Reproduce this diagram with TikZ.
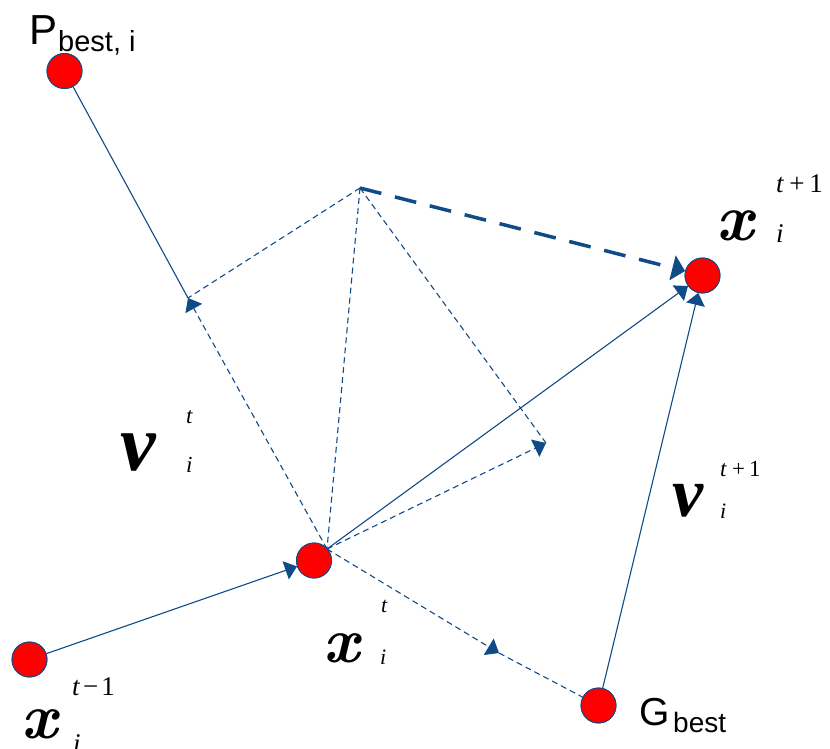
\documentclass[tikz,border=0pt]{standalone}
\usepackage{fontspec}
\setmainfont{Liberation Serif}
\newfontfamily\arialf{Liberation Sans}
\newfontfamily\lmrf{Latin Modern Roman}
\usetikzlibrary{arrows.meta}
\definecolor{ln}{RGB}{15,75,135}
\definecolor{dotred}{RGB}{255,0,0}
\begin{document}
\begin{tikzpicture}[x=1pt,y=-1pt,
  ptnode/.style={circle,fill=dotred,draw=ln,line width=0.9pt,minimum size=35pt,inner sep=0pt},
  solidln/.style={draw=ln,line width=1.1pt},
  dashln/.style={draw=ln,line width=1.1pt,dash pattern=on 6pt off 4pt},
  thickdash/.style={draw=ln,line width=3.5pt,dash pattern=on 22pt off 14pt},
  arr/.style={-{Triangle[width=19pt,length=12pt]}},
  lbl/.style={inner sep=0pt,anchor=base west},
  bigx/.style={lbl,font=\lmrf\fontsize{#1}{#1}\selectfont\bfseries\itshape},
  bigv/.style={lbl,font=\fontsize{#1}{#1}\selectfont\bfseries\itshape},
  scr/.style={lbl,font=\fontsize{#1}{#1}\selectfont},
]
\useasboundingbox (0,0) rectangle (830,749);
% key points
\coordinate (A) at (188,298);
\coordinate (B) at (360,188);
\coordinate (C) at (546,443);
\coordinate (D) at (499,653);
\coordinate (E) at (327,549);
% node positions (drawn again on top)
\path (64.5,71) coordinate (Pc) (702.5,275.5) coordinate (X1c) (314,560.5) coordinate (Xtc)
      (29.5,659.5) coordinate (Xmc) (598.5,705.5) coordinate (Gc);
\node[ptnode] (P) at (Pc) {};
\node[ptnode] (X1) at (X1c) {};
\node[ptnode] (Xt) at (Xtc) {};
\node[ptnode] (Xm) at (Xmc) {};
\node[ptnode] (G) at (Gc) {};
% lines
\draw[solidln] (P) -- (A);
\draw[dashln] (B) -- (A);
\draw[dashln,arr] (E) -- (A);
\draw[dashln] (B) -- (E);
\draw[dashln] (B) -- (C);
\draw[dashln,arr] (E) -- (C);
\draw[dashln,arr] (E) -- (D);
\draw[dashln] (D) -- (G);
\draw[solidln,arr] (E) -- (X1);
\draw[solidln,arr] (G) -- (X1);
\draw[solidln,arr] (Xm) -- (Xt);
\draw[thickdash,-{Triangle[width=25pt,length=13pt]}] (B) -- (X1);
% circles again on top
\node[ptnode] at (Pc) {};
\node[ptnode] at (X1c) {};
\node[ptnode] at (Xtc) {};
\node[ptnode] at (Xmc) {};
\node[ptnode] at (Gc) {};
% labels
\node[lbl,font=\arialf\fontsize{42}{42}\selectfont] (Pl) at (29,45) {P};
\node[lbl,font=\arialf\fontsize{29}{29}\selectfont] (Pls) at (58,52) {best, i};
\node[lbl,font=\arialf\fontsize{39}{39}\selectfont] (Gl) at (639,725) {G};
\node[lbl,font=\arialf\fontsize{28}{28}\selectfont] (Gls) at (673,732) {best};
% x_i^{t+1}
\node[bigx=66] (x1) at (716,240) {x};
\node[scr=27] (x1s) at (776,193) {\textit{t}\hspace{5pt}+\hspace{5pt}1};
\node[scr=27] (x1i) at (776,242) {\textit{i}};
% v_i^t
\node[bigv=80] (v0) at (120,470) {v};
\node[scr=23] (v0s) at (186,423) {\textit{t}};
\node[scr=23] (v0i) at (186,472) {\textit{i}};
% v_i^{t+1}
\node[bigv=70] (v1) at (672,516) {v};
\node[scr=23] (v1s) at (720,476) {\textit{t}\hspace{5pt}+\hspace{4pt}1};
\node[scr=22] (v1i) at (720,518) {\textit{i}};
% x_i^t
\node[bigx=64] (xt) at (323,662) {x};
\node[scr=22] (xts) at (381,612) {\textit{t}};
\node[scr=22] (xti) at (380,664) {\textit{i}};
% x_i^{t-1}
\node[bigx=64] (xm) at (21,738) {x};
\node[scr=27] (xms) at (72,695) {\textit{t}\hspace{3pt}\char"2212\hspace{3pt}1};
\node[scr=27] (xmi) at (73,752) {\textit{i}};
\end{tikzpicture}
\end{document}
